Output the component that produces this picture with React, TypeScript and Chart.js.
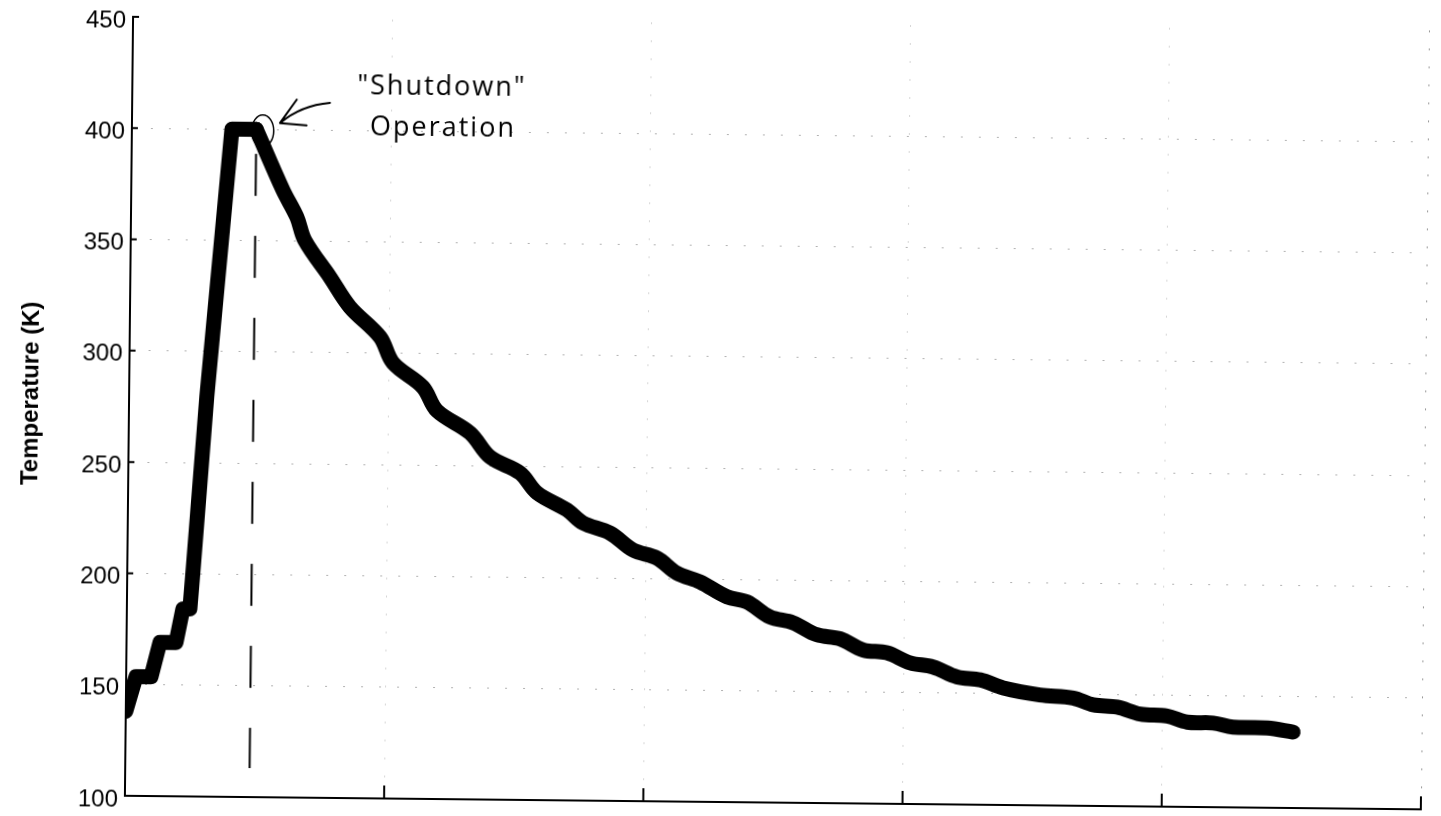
import React, { useEffect, useRef } from "react";
import { Chart, registerables } from "chart.js";

Chart.register(...registerables);

// Warm-up: stepped heating, fast ramp and hold at the peak (time 0–5 axis, kelvin)
const WARMUP_TIME = [0, 0.038, 0.096, 0.129, 0.191, 0.216, 0.243, 0.253, 0.3, 0.352, 0.386, 0.48];
const WARMUP_TEMP = [138, 153.6, 153.6, 169.1, 169.1, 184.2, 184.2, 200.2, 279.9, 352.5, 400, 400];

// Cool-down after shutdown
const COOLDOWN_TIME = [
  0.48, 0.585, 0.64, 0.672, 0.77, 0.848, 0.966, 1.017, 1.133, 1.188, 1.317, 1.395,
  1.511, 1.578, 1.694, 1.756, 1.861, 1.95, 2.043, 2.121, 2.21, 2.315, 2.392,
  2.481, 2.57, 2.663, 2.752, 2.842, 2.934, 3.024, 3.112, 3.206, 3.295, 3.384,
  3.526, 3.654, 3.732, 3.824, 3.913, 4.017, 4.095, 4.195, 4.272, 4.404, 4.504,
];
const COOLDOWN_TEMP = [
  400, 372.9, 360.8, 350.3, 334.0, 320.7, 307.3, 295.7, 285.0, 274.5, 264.6, 253.9,
  246.9, 238.0, 230.5, 224.7, 220.3, 212.8, 209.3, 202.6, 198.8, 192.2, 190.0,
  183.4, 180.9, 175.6, 173.9, 169.0, 167.8, 163.4, 161.7, 157.3, 156.1, 152.6,
  149.6, 148.4, 145.4, 144.5, 141.5, 140.7, 138.1, 137.8, 136.1, 135.8, 134.1,
];

// Shutdown instant and the temperature span of the dashed marker below it
const SHUTDOWN_TIME = 0.48;
const MARKER_SPAN = [389, 113];

const X_TICKS = [0, 1, 2, 3, 4, 5];
const Y_TICKS = [100, 150, 200, 250, 300, 350, 400, 450];
const Y_TITLE = "Temperature (K)";
const NOTE_LINES = ["\"Shutdown\"", "Operation"];

const LABEL_FONT = '"Liberation Sans", Arial, Helvetica, sans-serif';

// Inward tick marks, axis title and the handwritten-style shutdown note
const decorPlugin = {
  id: "decor",
  afterDraw(chart: any) {
    const { ctx, chartArea: a, scales } = chart;
    const xs = scales.x;
    const ys = scales.y;
    ctx.save();
    ctx.strokeStyle = "#000";
    ctx.lineWidth = 2;
    ctx.beginPath();
    Y_TICKS.forEach((v) => {
      const py = ys.getPixelForValue(v);
      ctx.moveTo(a.left, py);
      ctx.lineTo(a.left + 6, py);
    });
    X_TICKS.forEach((v) => {
      const px = xs.getPixelForValue(v);
      ctx.moveTo(px, a.bottom);
      ctx.lineTo(px, a.bottom - 13);
    });
    ctx.stroke();

    // y-axis title
    ctx.save();
    ctx.translate(31, (a.top + a.bottom) / 2 - 12);
    ctx.rotate(-Math.PI / 2);
    ctx.font = `bold 24px ${LABEL_FONT}`;
    ctx.fillStyle = "#000";
    ctx.textAlign = "center";
    ctx.textBaseline = "middle";
    ctx.fillText(Y_TITLE, 0, 0);
    ctx.restore();

    // note anchored on the end of the hold at peak temperature
    const ax = xs.getPixelForValue(SHUTDOWN_TIME);
    const ay = ys.getPixelForValue(Math.max(...WARMUP_TEMP));

    ctx.lineWidth = 1.5;
    ctx.beginPath();
    ctx.ellipse(ax + 6.4, ay + 1.4, 11, 16, 0, 0, Math.PI * 2);
    ctx.stroke();

    ctx.lineWidth = 2;
    ctx.lineCap = "round";
    ctx.beginPath();
    ctx.moveTo(ax + 73.4, ay - 27.4);
    ctx.quadraticCurveTo(ax + 44.4, ay - 24.7, ax + 23.6, ay - 6.6);
    ctx.moveTo(ax + 23.6, ay - 6.6);
    ctx.lineTo(ax + 40.2, ay - 30.3);
    ctx.moveTo(ax + 23.6, ay - 6.6);
    ctx.lineTo(ax + 50.2, ay - 4.6);
    ctx.stroke();

    ctx.fillStyle = "#000";
    ctx.font = '400 27px "Open Sans", sans-serif';
    ctx.textAlign = "left";
    ctx.textBaseline = "alphabetic";
    try {
      (ctx as any).letterSpacing = "2px";
    } catch (e) {}
    ctx.fillText(NOTE_LINES[0], ax + 100.6, ay - 36.3);
    ctx.fillText(NOTE_LINES[1], ax + 113.6, ay + 4.7);
    ctx.restore();
  },
};

export default function App() {
  const canvasRef = useRef<HTMLCanvasElement | null>(null);

  useEffect(() => {
    const canvas = canvasRef.current;
    if (!canvas) return;

    const curveStyle = {
      borderColor: "#000",
      borderWidth: 15,
      borderJoinStyle: "round",
      borderCapStyle: "round",
      pointRadius: 0,
      clip: 0,
    };

    const chart = new Chart(canvas, {
      type: "line",
      data: {
        datasets: [
          {
            label: "Warm-up",
            data: WARMUP_TIME.map((t, i) => ({ x: t, y: WARMUP_TEMP[i] })),
            tension: 0,
            ...curveStyle,
          },
          {
            label: "Cool-down",
            data: COOLDOWN_TIME.map((t, i) => ({ x: t, y: COOLDOWN_TEMP[i] })),
            tension: 0.35,
            ...curveStyle,
          },
          {
            label: "Shutdown",
            data: MARKER_SPAN.map((v) => ({ x: SHUTDOWN_TIME, y: v })),
            borderColor: "#000",
            borderWidth: 2,
            borderDash: [42, 40],
            pointRadius: 0,
          },
        ],
      },
      options: {
        animation: false,
        responsive: false,
        maintainAspectRatio: false,
        layout: { padding: { top: 23, right: 16, left: 0, bottom: 0 } },
        plugins: {
          legend: { display: false },
          tooltip: { enabled: false },
        },
        scales: {
          x: {
            type: "linear",
            min: 0,
            max: 5,
            afterFit: (s: any) => {
              s.height = 14;
            },
            afterBuildTicks: (s: any) => {
              s.ticks = X_TICKS.map((v) => ({ value: v }));
            },
            ticks: { display: false },
            grid: {
              color: (c: any) => {
                const v = c.tick ? c.tick.value : -1;
                if (v === 0) return "rgba(0,0,0,0)";
                return v === 5 ? "rgba(0,0,0,0.4)" : "rgba(0,0,0,0.16)";
              },
              lineWidth: 1,
              drawTicks: false,
            },
            border: { display: true, color: "#000", width: 2, dash: [2, 16] },
          },
          y: {
            type: "linear",
            min: 100,
            max: 450,
            afterFit: (s: any) => {
              s.width = 129;
              s.paddingTop = 0;
              s.paddingBottom = 0;
            },
            afterBuildTicks: (s: any) => {
              s.ticks = Y_TICKS.map((v) => ({ value: v }));
            },
            ticks: {
              color: "#000",
              padding: 7,
              labelOffset: 4,
              font: { family: LABEL_FONT, size: 24 },
              callback: (v: any) => String(v),
            },
            grid: {
              color: (c: any) => {
                const v = c.tick ? c.tick.value : -1;
                return v === 100 || v === 450 ? "rgba(0,0,0,0)" : "rgba(0,0,0,0.3)";
              },
              lineWidth: 1,
              drawTicks: false,
            },
            border: { display: true, color: "#000", width: 2, dash: [2, 16] },
          },
        },
      },
      plugins: [decorPlugin],
    } as any);

    return () => chart.destroy();
  }, []);

  return (
    <div
      style={{
        position: "fixed",
        left: 0,
        top: 0,
        width: 1441,
        height: 816,
        overflow: "hidden",
        background: "#fff",
      }}
    >
      <canvas
        ref={canvasRef}
        width={1441}
        height={816}
        style={{
          position: "absolute",
          left: 0,
          top: 0,
          width: 1441,
          height: 816,
          transform: "rotate(0.6deg)",
        }}
      />
    </div>
  );
}
